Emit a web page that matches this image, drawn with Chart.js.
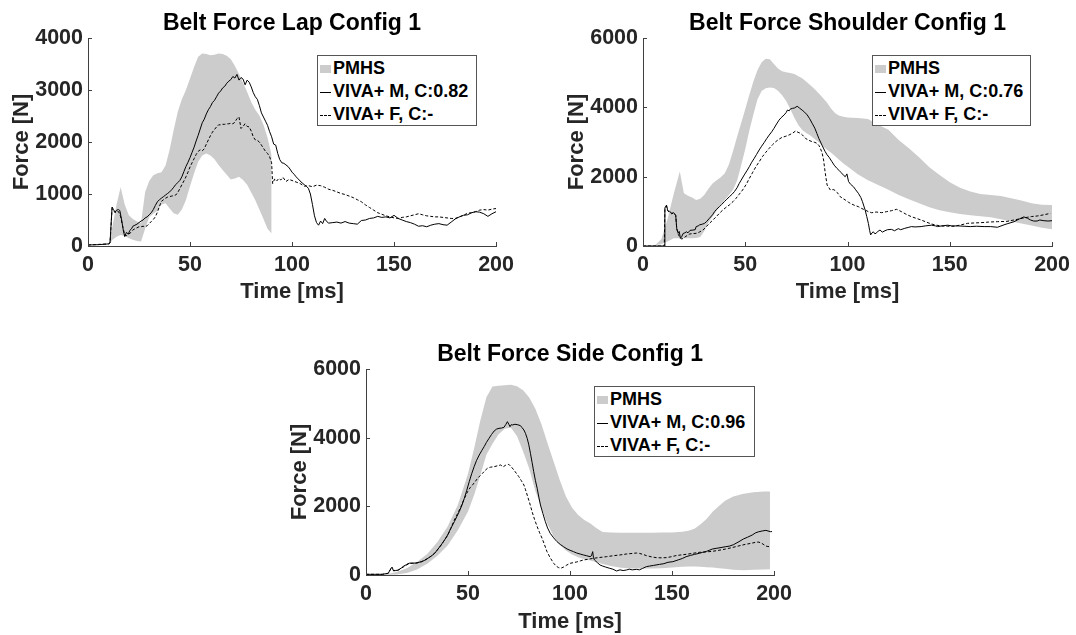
<!DOCTYPE html>
<html>
<head>
<meta charset="utf-8">
<script src="https://cdn.jsdelivr.net/npm/chart.js@4.4.0/dist/chart.umd.min.js"></script>
<style>
  body { margin: 0; width: 1076px; height: 635px; overflow: hidden; background: #fff; position: relative; }
  canvas { position: absolute; }
  .lgd { position: absolute; box-sizing: border-box; height: 71px; border: 1px solid #555; background: #fff;
         padding-top: 1px; font: bold 18px "Liberation Sans", Arial, sans-serif; color: #000; }
  .row { position: relative; height: 23px; line-height: 23px; padding-left: 15px; white-space: nowrap; }
  .mk { position: absolute; left: 2px; top: 50%; width: 11px; }
  .mk.band  { height: 8px; margin-top: -4px; background: #cccccc; }
  .mk.solid { border-top: 1px solid #000; }
  .mk.dash  { border-top: 1px dashed #000; }
</style>
</head>
<body>
<canvas id="c-lap" width="520" height="310" style="left:0;top:0"></canvas>
<canvas id="c-sh"  width="521" height="310" style="left:555px;top:0"></canvas>
<canvas id="c-sd"  width="520" height="309" style="left:278px;top:331px"></canvas>
<div class="lgd" id="lg-lap" style="left:317px;top:55px;width:160px"></div>
<div class="lgd" id="lg-sh"  style="left:872px;top:55px;width:159px"></div>
<div class="lgd" id="lg-sd"  style="left:594px;top:386px;width:161px"></div>

<script>
/* ticks */
const timeTicks = [0, 50, 100, 150, 200];
const lapYTicks = [0, 1000, 2000, 3000, 4000];
const shYTicks  = [0, 2000, 4000, 6000];
const sdYTicks  = [0, 2000, 4000, 6000];

/* ---- Lap ---- */
const lapPmhsTime = [10,12,14,16,18,20,22,24,26,28,30,32,34,36,38,40,42,44,46,48,50,52,54,56,58,60,62,64,66,68,70,72,74,76,78,80,82,84,86,88,90];
const lapPmhsHigh = [30,380,800,1130,800,590,520,470,440,1040,1250,1360,1400,1420,1550,1850,2230,2580,2820,3000,3220,3440,3640,3700,3690,3670,3680,3700,3690,3660,3590,3460,3310,3140,2960,2770,2620,2510,2330,2080,1750];
const lapPmhsLow  = [0,120,180,210,190,150,120,95,85,330,560,620,680,800,820,720,630,600,700,885,1150,1400,1620,1740,1780,1740,1670,1560,1460,1370,1280,1300,1330,1270,1180,1030,880,700,520,330,240];

const lapM = [[0,20],[5,25],[10,40],[10.8,60],[11.8,750],[12.5,700],[13.3,650],[14,690],[15,700],[15.6,680],[16.5,500],[17.3,300],[18,180],[18.8,260],[19.8,230],
  [20.5,300],[21.3,330],[22,380],[23,400],[24,420],[25,450],[26,480],[27,500],[28,540],[29,560],[30,600],[31,640],[32,700],[33,780],[34,850],[35,890],[36,920],
  [37,950],[38,980],[39,1010],[40,1040],[41,1080],[42,1130],[43,1180],[44,1220],[45,1260],[46,1330],[47,1430],[48,1530],[49,1610],[50,1700],[51,1800],[52,1900],
  [53,2020],[54,2130],[55,2250],[56,2370],[57,2440],[58,2540],[59,2620],[60,2680],[61,2760],[62,2800],[63,2870],[64,2940],[65,2980],[66,3040],[67,3070],[68,3130],
  [69,3170],[70,3200],[71,3260],[72,3230],[73,3300],[74,3190],[75,3240],[76,3210],[77,3100],[78,3190],[79,3150],[80,3060],[81,2950],[82,2870],[83,2820],[84,2700],
  [85,2560],[86,2480],[87,2400],[88,2320],[89,2200],[90,2100],[91,1960],[92,1940],[93,1780],[94,1660],[95,1600],[96,1590],[97,1560],[98,1530],[99,1480],[100,1420],
  [101,1380],[102,1330],[103,1290],[104,1250],[105,1210],[106,1180],[107,1150],[108,1110],[109,1000],[110,800],[111,580],[112,450],[113,400],[114,480],[115,430],
  [116,530],[117,470],[118,440],[120,450],[122,460],[124,440],[126,470],[128,440],[130,430],[132,420],[134,490],[136,500],[138,530],[140,540],[142,570],[144,550],
  [146,560],[148,540],[150,590],[152,530],[154,500],[156,470],[158,450],[160,420],[162,380],[164,390],[166,370],[168,400],[170,420],[172,430],[174,410],[176,400],
  [178,460],[180,520],[182,560],[184,590],[186,600],[188,640],[190,660],[192,650],[194,620],[196,570],[198,620],[200,660]];

const lapF = [[0,20],[10,40],[10.8,60],[11.8,720],[12.5,680],[13.3,640],[14,670],[15,660],[16,560],[17,380],[18,210],[19,200],[20,230],[21,260],[22,310],[23,330],
  [24,350],[25,370],[26,370],[27,380],[28,370],[29,390],[30,430],[31,470],[32,510],[33,560],[34,650],[35,760],[36,860],[37,890],[38,920],[39,940],[40,950],[41,960],
  [42,970],[43,980],[44,1030],[45,1100],[46,1180],[47,1250],[48,1330],[49,1420],[50,1520],[51,1600],[52,1680],[53,1760],[54,1820],[55,1850],[56,1830],[57,1870],
  [58,1960],[59,2040],[60,2120],[61,2190],[62,2240],[63,2290],[64,2330],[65,2330],[66,2340],[67,2340],[68,2350],[69,2350],[70,2360],[71,2350],[72,2380],[73,2450],
  [74,2480],[75,2260],[76,2300],[77,2350],[78,2300],[79,2290],[80,2210],[81,2100],[82,2040],[83,2030],[84,2000],[85,1940],[86,1880],[87,1820],[88,1780],[89,1720],
  [90,1600],[90.5,1200],[91.5,1290],[92.5,1250],[93.5,1300],[94.5,1270],[95.6,1320],[97,1240],[98.5,1280],[100,1260],[102,1230],[104,1200],[106,1150],[108,1160],
  [110,1140],[112,1170],[114,1160],[116,1130],[118,1090],[120,1070],[122,1040],[124,1010],[126,990],[128,960],[130,930],[132,890],[134,850],[136,790],[138,740],
  [140,690],[142,640],[144,610],[146,580],[148,560],[150,540],[152,530],[154,550],[156,560],[158,580],[160,600],[162,620],[164,600],[166,580],[168,570],[170,560],
  [172,560],[174,550],[176,540],[178,530],[180,530],[182,560],[184,590],[186,630],[188,640],[190,660],[192,690],[194,700],[196,690],[198,710],[200,720]];

/* ---- Shoulder ---- */
const shPmhsTime = [4,6,9,12,15,18,20,22,24,26,28,30,32,34,36,38,40,42,44,46,48,50,52,54,56,58,60,62,64,66,68,70,72,74,76,78,80,82,84,86,88,90,92,94,96,98,100,105,110,115,120,125,130,135,140,145,150,155,160,165,170,175,180,185,190,195,200];
const shPmhsHigh = [0,30,200,780,1500,2150,1520,1450,1400,1330,1360,1480,1650,1800,1900,1980,2100,2350,2730,3150,3550,3950,4360,4750,5080,5300,5400,5390,5250,5120,5040,5010,4990,4960,4900,4830,4730,4630,4520,4400,4270,4130,3960,3830,3760,3730,3710,3690,3660,3500,3350,3060,2820,2560,2270,2050,1840,1680,1570,1500,1470,1440,1380,1310,1230,1190,1180];
const shPmhsLow  = [0,20,60,130,220,220,220,220,220,230,260,430,680,850,1020,1180,1330,1470,1620,1880,2330,2800,3330,3800,4230,4470,4550,4570,4560,4480,4350,4180,3950,3700,3480,3340,3250,3180,3080,2990,2880,2780,2690,2590,2480,2380,2290,2070,1900,1760,1620,1470,1350,1230,1120,1030,970,920,890,860,830,770,710,650,590,530,480];

const shM = [[0,0],[5,0],[10.4,0],[10.7,1100],[11.5,1180],[12,1050],[12.5,990],[13,1000],[13.5,980],[14,940],[15,960],[15.5,930],[16,880],[16.5,500],[17.2,370],
  [17.7,420],[18.3,220],[19,280],[19.6,360],[20.5,380],[21.2,410],[22,380],[23,450],[24.4,460],[25.5,470],[26,560],[27,580],[27.7,610],[29,630],[30,650],[31,700],
  [32.5,800],[34,900],[35,990],[36,1060],[37.4,1135],[38.5,1200],[39.8,1280],[41,1350],[42.2,1420],[43.5,1490],[44.7,1570],[46,1680],[47,1800],[48,1900],[49.5,2050],
  [51,2190],[52,2290],[53,2400],[54.4,2530],[55.5,2640],[56.8,2770],[58,2880],[59.2,2980],[60.5,3100],[61.7,3200],[63,3300],[64,3390],[65,3490],[66.5,3630],[67.5,3700],
  [69,3780],[70,3850],[70.6,3920],[71.5,3900],[72,3950],[73,3970],[74,3980],[75.4,4030],[76.5,3980],[77.8,3920],[79,3860],[80.3,3780],[81.5,3670],[82.7,3540],[84,3400],
  [85,3250],[86,3100],[87.5,2910],[89,2730],[90,2630],[91,2560],[92.4,2430],[93.5,2330],[94.8,2240],[96,2170],[97.2,2100],[98.2,2030],[98.9,2000],[99.7,2080],
  [100.5,1860],[101.5,1780],[102.9,1710],[104,1620],[105.3,1520],[106.5,1400],[107.3,1280],[108,1150],[108.6,1040],[109.4,850],[110.2,650],[110.8,450],[111.3,320],
  [112,380],[112.6,410],[113.4,350],[114.2,380],[115,430],[115.9,460],[117,400],[118.3,440],[119.5,470],[121.5,480],[123,440],[124.8,500],[126,470],[128,510],[130,540],
  [131.2,560],[133,550],[136,560],[138,580],[141,600],[143,580],[144,560],[146,580],[149,600],[151,580],[154,580],[157,570],[160,560],[163,570],[166.8,560],[170,560],
  [173.3,540],[176.5,610],[178,640],[181.4,700],[184,780],[186.2,840],[188,800],[189.5,750],[191,720],[192.7,720],[194,750],[196,730],[198,720],[200,730]];

const shF = [[0,0],[10.4,0],[10.7,1050],[11.5,1150],[12,1020],[13,980],[14,930],[15,950],[16,880],[16.5,500],[17.3,330],[18,250],[19,200],[19.6,220],[21,280],
  [22.8,346],[24.5,360],[26,365],[27.5,400],[29.3,460],[31,560],[32.5,654],[34,740],[35.8,846],[37.5,950],[39,1038],[40.5,1110],[42.2,1183],[44,1280],[45.5,1375],
  [47,1490],[48.7,1615],[50.5,1780],[52,1950],[53.5,2110],[55.2,2288],[56.8,2430],[58.4,2577],[60,2700],[61.7,2817],[63.3,2920],[64.9,3010],[66.5,3080],[68,3135],
  [69.5,3160],[71.4,3202],[73,3250],[74.6,3317],[75.8,3280],[77,3250],[78,3200],[79.4,3106],[81,3050],[82.7,3010],[84,2990],[85.1,2961],[86,2900],[86.7,2817],
  [87.5,2700],[88.3,2481],[89,2150],[90,1760],[91.6,1615],[93,1630],[94,1600],[95,1540],[96.4,1423],[97.5,1380],[98.9,1327],[100.5,1260],[102,1212],[103.5,1170],
  [105.3,1135],[107,1080],[108.6,1038],[110.2,990],[111.8,960],[114,980],[116.7,962],[119,990],[121.5,1019],[124,1058],[126.4,990],[128.5,920],[131.2,846],
  [133.5,800],[136,750],[138.5,690],[141,635],[143.5,600],[145.8,577],[149,570],[152.3,570],[155.5,610],[158.7,654],[162,665],[165.2,673],[169,690],[173.3,702],
  [178,710],[180.5,740],[183,769],[185.5,800],[187.8,827],[190,850],[192.7,865],[196,900],[199.2,942]];

/* ---- Side ---- */
const sdPmhsTime = [5,10,15,20,25,30,35,40,45,50,53,56,59,62,65,68,71,74,77,80,83,86,89,92,95,98,101,104,107,110,113,116,120,125,130,135,140,145,150,155,158,161,164,167,170,173,176,180,185,190,195,198];
const sdPmhsHigh = [10,20,90,200,380,610,960,1410,2040,2950,3690,4490,5180,5490,5510,5530,5540,5500,5380,5170,4840,4390,3830,3300,2760,2290,1960,1750,1600,1500,1360,1250,1235,1230,1230,1230,1230,1235,1240,1260,1290,1350,1480,1640,1850,2010,2160,2290,2370,2410,2430,2430];
const sdPmhsLow  = [0,5,15,60,160,330,560,860,1300,1850,2330,2900,3500,3820,4100,4260,4290,4050,3600,3100,2450,1950,1480,1120,880,710,600,520,460,420,370,320,260,210,190,190,190,200,220,240,245,245,240,225,215,200,180,150,140,150,160,170];

const sdM = [[0,20],[5,20],[8,20],[10.9,50],[12.3,200],[12.8,230],[13.5,120],[14.5,130],[15.7,140],[16.5,170],[17.4,210],[18.5,260],[19.8,300],[20.5,330],[21.4,345],
  [23,345],[24.5,350],[26,370],[27.1,390],[28.5,420],[30.3,485],[32,550],[33.6,631],[35,730],[36.8,874],[38.5,1020],[40,1165],[41.5,1350],[43.3,1553],[44.5,1700],
  [45.7,1845],[47,2030],[48.2,2233],[49.4,2470],[50.6,2718],[51.8,2950],[53,3155],[54.2,3340],[55.5,3495],[56.7,3620],[57.9,3738],[59,3860],[60.3,3981],[61.5,4090],
  [62.8,4194],[64,4250],[65.2,4272],[66.4,4280],[67.6,4300],[68.5,4380],[69.3,4466],[70,4390],[70.6,4320],[71.2,4380],[71.7,4369],[73,4390],[74.1,4380],[75.7,4350],
  [76.5,4290],[77.4,4223],[78.2,4120],[79,3981],[79.8,3790],[80.6,3544],[81.4,3280],[82.2,3010],[83,2760],[83.9,2524],[84.7,2270],[85.5,2039],[86.7,1790],[87.9,1553],
  [89,1370],[90.3,1214],[92,1080],[93.6,971],[95.2,890],[96.8,825],[98.5,760],[100,720],[101.7,680],[103.3,640],[105,610],[106.6,583],[108.2,560],[109.8,534],
  [110.5,560],[111.1,680],[111.5,500],[112,437],[113.4,360],[114.7,291],[116,260],[117.5,230],[119.5,194],[121,170],[122.8,117],[124.5,150],[126,130],[127.7,146],
  [129,170],[130.5,150],[132.5,165],[134,150],[135.5,190],[137.4,243],[139,260],[141,280],[143.9,310],[146,330],[148,370],[150.4,388],[153,440],[155,480],[156.9,534],
  [159,570],[161,600],[163.3,631],[165,660],[167,690],[169.8,757],[172,780],[174,800],[176.3,825],[178,840],[180,880],[182.8,971],[185,1050],[187,1100],[189.3,1165],
  [191,1230],[192.5,1260],[194.2,1282],[196,1300],[198.2,1262],[199,1265]];

const sdF = [[0,20],[8,20],[10.9,50],[12.3,190],[13.5,130],[15.7,140],[17.4,200],[19.8,290],[21.4,340],[24.5,345],[27.1,380],[30.3,480],[33.6,630],[36.8,870],
  [40,1150],[41.5,1350],[43.3,1602],[45,1800],[46.6,2000],[48.2,2230],[49.8,2427],[51,2540],[52.2,2621],[53.5,2720],[54.7,2816],[55.9,2890],[57.1,2961],[58.3,3040],
  [59.5,3107],[61,3140],[62.8,3155],[64.4,3180],[66,3204],[67.2,3150],[68.5,3200],[70,3223],[71.2,3150],[72.5,3058],[73.7,2960],[74.9,2864],[76.1,2750],[77.4,2621],
  [78.2,2480],[79,2330],[80.2,2100],[81.4,1845],[82.6,1620],[83.9,1408],[85.1,1230],[86.3,1068],[87.5,880],[88.7,680],[90.3,500],[92,340],[93.2,260],[94.4,214],
  [95.6,200],[96.8,230],[98.4,290],[100,340],[101.7,360],[103.3,380],[105,410],[106.6,437],[109,460],[111.4,485],[114.5,510],[117.9,534],[121,560],[124.4,583],
  [127.5,610],[130.9,631],[132.5,640],[134.1,628],[135.8,600],[137.4,565],[139.8,530],[142.2,505],[144.6,500],[147.1,505],[149.5,530],[152,565],[154.5,585],
  [156.9,602],[160,630],[163.3,660],[166.5,670],[169.8,690],[173,720],[176.3,757],[178.8,790],[181.2,825],[183.6,860],[186,893],[188.5,920],[190.9,951],[192.2,960],
  [193.4,940],[194.6,900],[195.8,845],[197,830],[198.2,825]];

const FONT  = '"Liberation Sans", Arial, Helvetica, sans-serif';
const TXT   = '#262626';
const AXIS  = '#404040';
const GRAY  = '#cccccc';

const xy = (ts, vs) => ts.map((t, i) => ({ x: t, y: vs[i] }));
const pts = arr => arr.map(p => ({ x: p[0], y: p[1] }));

/* MATLAB style: short tick marks pointing into the axes */
const innerTicks = {
  id: 'innerTicks',
  afterDraw(chart) {
    const { ctx, chartArea: a, scales: { x, y } } = chart;
    ctx.save();
    ctx.strokeStyle = AXIS;
    ctx.lineWidth = 1;
    ctx.beginPath();
    x.ticks.forEach(t => {
      const px = Math.round(x.getPixelForValue(t.value)) + 0.5;
      ctx.moveTo(px, a.bottom); ctx.lineTo(px, a.bottom - 4);
    });
    y.ticks.forEach(t => {
      const py = Math.round(y.getPixelForValue(t.value)) + 0.5;
      ctx.moveTo(a.left, py); ctx.lineTo(a.left + 4, py);
    });
    ctx.stroke();
    ctx.restore();
  }
};

function makeChart(id, p) {
  return new Chart(document.getElementById(id), {
    type: 'line',
    data: {
      datasets: [
        // corridor first in index, but high `order` so it is painted underneath the model curves
        { label: 'PMHS low', data: xy(p.corrT, p.corrLo), borderWidth: 0, borderColor: 'transparent', pointRadius: 0, fill: false, order: 3 },
        { label: 'PMHS', data: xy(p.corrT, p.corrHi), borderWidth: 0, borderColor: 'transparent', backgroundColor: GRAY,
          pointRadius: 0, fill: '-1', order: 2, marker: 'band' },
        { label: p.mLabel, data: pts(p.m), borderColor: '#000', borderWidth: 1, pointRadius: 0, fill: false, order: 0, marker: 'solid' },
        { label: 'VIVA+ F, C:-', data: pts(p.f), borderColor: '#000', borderWidth: 1, borderDash: [3, 2], pointRadius: 0, fill: false, order: 1, marker: 'dash' },
      ],
    },
    options: {
      responsive: false,
      animation: false,
      devicePixelRatio: 1,
      layout: { padding: { left: 0, right: p.padR, top: 0, bottom: 0 } },
      plugins: {
        legend: { display: false },
        tooltip: { enabled: false },
        title: {
          display: true, text: p.title, fullSize: false, color: '#000',
          font: { family: FONT, size: 23, weight: 'bold', lineHeight: 1.2 },
          padding: { top: 10, bottom: 0.4 },
        },
      },
      scales: {
        x: {
          type: 'linear', min: 0, max: 200,
          afterBuildTicks: s => { s.ticks = timeTicks.map(v => ({ value: v })); },
          afterFit: s => { s.height = p.xH; },
          ticks: { color: TXT, padding: 6, maxRotation: 0, font: { family: FONT, size: 21.5, weight: 'bold' }, callback: v => String(v) },
          grid: { display: false, drawTicks: false },
          border: { display: true, color: AXIS, width: 1 },
          title: { display: true, text: 'Time [ms]', color: TXT, font: { family: FONT, size: 22, weight: 'bold', lineHeight: 1.2 },
                   padding: { top: 0, bottom: 4.8 } },
        },
        y: {
          type: 'linear', min: 0, max: p.yTicks[p.yTicks.length - 1],
          afterBuildTicks: s => { s.ticks = p.yTicks.map(v => ({ value: v })); },
          afterFit: s => { s.width = 88; },
          ticks: { color: TXT, padding: 5, font: { family: FONT, size: 21.5, weight: 'bold' }, callback: v => String(v) },
          grid: { display: false, drawTicks: false },
          border: { display: true, color: AXIS, width: 1 },
          title: { display: true, text: 'Force [N]', color: TXT, font: { family: FONT, size: 22, weight: 'bold', lineHeight: 1.2 },
                   padding: { top: 8.8, bottom: 0 } },
        },
      },
    },
    plugins: [innerTicks],
  });
}

function fillLegend(chart, boxId) {
  const box = document.getElementById(boxId);
  chart.data.datasets.filter(d => d.marker).forEach(d => {
    const row = document.createElement('div');
    row.className = 'row';
    const mk = document.createElement('span');
    mk.className = 'mk ' + d.marker;
    row.appendChild(mk);
    row.appendChild(document.createTextNode(d.label));
    box.appendChild(row);
  });
}

const lap = makeChart('c-lap', {
  title: 'Belt Force Lap Config 1', mLabel: 'VIVA+ M, C:0.82', yTicks: lapYTicks, padR: 20, xH: 64,
  corrT: lapPmhsTime, corrHi: lapPmhsHigh, corrLo: lapPmhsLow, m: lapM, f: lapF,
});
const sh = makeChart('c-sh', {
  title: 'Belt Force Shoulder Config 1', mLabel: 'VIVA+ M, C:0.76', yTicks: shYTicks, padR: 21, xH: 64,
  corrT: shPmhsTime, corrHi: shPmhsHigh, corrLo: shPmhsLow, m: shM, f: shF,
});
const sd = makeChart('c-sd', {
  title: 'Belt Force Side Config 1', mLabel: 'VIVA+ M, C:0.96', yTicks: sdYTicks, padR: 21, xH: 65,
  corrT: sdPmhsTime, corrHi: sdPmhsHigh, corrLo: sdPmhsLow, m: sdM, f: sdF,
});

fillLegend(lap, 'lg-lap');
fillLegend(sh, 'lg-sh');
fillLegend(sd, 'lg-sd');
</script>
</body>
</html>
